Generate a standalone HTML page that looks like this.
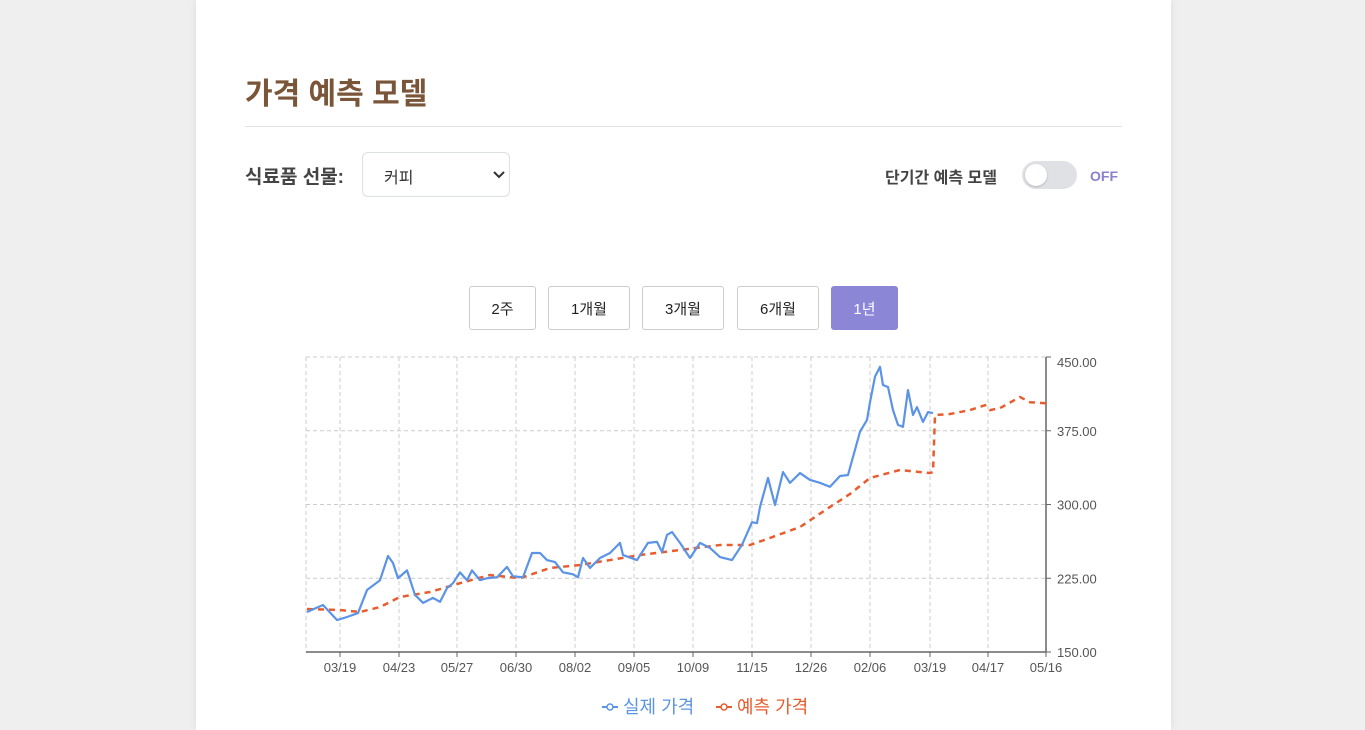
<!DOCTYPE html>
<html><head><meta charset="utf-8">
<style>
body{margin:0;width:1365px;height:730px;background:#efefef;overflow:hidden;font-family:"Liberation Sans","Noto Sans CJK KR",sans-serif;}
.card{position:absolute;left:196px;top:0;width:975px;height:730px;background:#fff;box-shadow:0 0 8px rgba(0,0,0,0.08);}
.abs{position:absolute;}
.btn{position:absolute;top:286px;height:44px;border:1px solid #ccc;border-radius:3px;background:#fff;font-size:15px;color:#222;display:flex;align-items:center;justify-content:center;box-sizing:border-box;}
</style></head><body>
<div class="card"></div>
<div class="abs" style="left:245px;top:69px;font-size:30px;font-weight:bold;color:#7a5538;">가격 예측 모델</div>
<div class="abs" style="left:245px;top:126px;width:877px;height:1px;background:#e2e2e2;"></div>
<div class="abs" style="left:245px;top:162px;font-size:19px;font-weight:bold;color:#444;">식료품 선물:</div>
<div class="abs" style="left:362px;top:152px;width:146px;height:43px;border:1.5px solid #dcdfe3;border-radius:6px;font-size:16px;color:#333;">
 <span style="position:absolute;left:21px;top:11px;">커피</span>
 <svg style="position:absolute;left:130px;top:17px" width="12" height="10"><path d="M1 2 L6 7 L11 2" stroke="#333" stroke-width="2" fill="none"/></svg>
</div>
<div class="abs" style="left:885px;top:164px;font-size:16px;font-weight:bold;color:#444;">단기간 예측 모델</div>
<div class="abs" style="left:1022px;top:161px;width:55px;height:28px;border-radius:14px;background:#dfe1e5;">
 <div style="position:absolute;left:3px;top:3px;width:22px;height:22px;border-radius:11px;background:#fff;box-shadow:0 1px 2px rgba(0,0,0,.2)"></div>
</div>
<div class="abs" style="left:1090px;top:168px;font-size:14px;font-weight:bold;color:#8b80d0;">OFF</div>
<div class="btn" style="left:469px;width:67px;">2주</div>
<div class="btn" style="left:548px;width:82px;">1개월</div>
<div class="btn" style="left:642px;width:82px;">3개월</div>
<div class="btn" style="left:737px;width:82px;">6개월</div>
<div class="btn" style="left:831px;width:67px;background:#8b86d6;border-color:#8b86d6;color:#fff;">1년</div>
<svg id="chart" class="abs" style="left:0;top:0" width="1365" height="730"></svg>
<script>
const tickIdx=[17,46.5,75.5,105,134.5,164,193.5,223,252.5,282,312,341,370];
const tickLabels=["03/19","04/23","05/27","06/30","08/02","09/05","10/09","11/15","12/26","02/06","03/19","04/17","05/16"];
const yTicks=[150,225,300,375,450];
const actualX=[0.5,8.5,15.5,20.5,26,30.5,37,41,43.5,46,50.5,54.5,58.5,63.5,67,70.5,73.5,77,80.5,83,87,90.5,95.5,100.5,103.5,108.5,113,117,120.5,124.5,128.5,133.5,136,138.5,142,147,152,157,158.5,165.5,171,175.5,178,180.5,183,187,192,197,202,207,213,218,223,225.5,227,231,234.5,238.5,242,247,252,257,262,267,271,274,277,280.5,282,284.5,287,288.5,291,293.5,296,298.5,301,303.5,305.5,308.5,311,313.5];
const actualY=[190.7,197.8,182.5,185.6,189.6,213,223,247.6,240.5,225,233,208,200,205,201,215,220,231,223,233,223,225,226,236.5,227,226,250.7,250.7,243.5,241.5,231,229,226,245.6,235.5,245.6,250.7,261,248.6,243.5,261,262,251.7,269,272,261,245.6,261,255.8,246.6,243.5,259,282,281,297.5,327,299.5,333,322,332,325,322,318,329,330,352,374,386,404,430,440,421.5,419.5,396,381,379,416.4,391,399,384,394,393];
const predX=[0.5,17,27,37,47,62,77,92,107,122,137,152,167,187,207,222,232,247,262,272,282,297,312,313.5,314.5,322,332,339.5,342,347,357,362,370];
const predY=[193.7,192.7,190.7,195.7,206,211,220,228.3,225,235.4,238.5,243.5,248.6,253.7,258.8,258.8,266,277.1,297.5,310.7,327,335.1,332,333,391,392,396,401,396,398,409.3,404,403];
const X0=306,X1=1046,Y0=652,Y1=357;
const xs=i=>X0+(i/370)*(X1-X0);
const ys=v=>Y0-(v-150)/300*(Y0-Y1);
const svg=document.getElementById('chart');
const NS='http://www.w3.org/2000/svg';
function mk(t,a){const e=document.createElementNS(NS,t);for(const k in a)e.setAttribute(k,a[k]);svg.appendChild(e);return e;}
let e;
yTicks.forEach(v=>{
 e=mk('line',{x1:X0,x2:X1,y1:ys(v),y2:ys(v),stroke:'#ccc','stroke-dasharray':'4,3'});
 
 
 e=mk('line',{x1:X1,x2:X1+5,y1:ys(v),y2:ys(v),stroke:'#666'});
 
 
 e=mk('text',{x:X1+11,y:ys(v)+(v===450?10:5),'font-size':13,fill:'#555','font-family':'Liberation Sans, sans-serif'});
 e.textContent=v.toFixed(2);
 
 
});
e=mk('line',{x1:X0,x2:X0,y1:Y1,y2:Y0,stroke:'#ccc','stroke-dasharray':'4,3'});


tickIdx.forEach((t,i)=>{
 e=mk('line',{x1:xs(t),x2:xs(t),y1:Y1,y2:Y0,stroke:'#ccc','stroke-dasharray':'4,3'});
 
 
 e=mk('line',{x1:xs(t),x2:xs(t),y1:Y0,y2:Y0+5,stroke:'#666'});
 
 
 e=mk('text',{x:xs(t),y:Y0+20,'font-size':13,fill:'#555','text-anchor':'middle','font-family':'Liberation Sans, sans-serif'});
 e.textContent=tickLabels[i];
 
 
});
e=mk('line',{x1:X0,x2:X1,y1:Y0,y2:Y0,stroke:'#666','stroke-width':1.5});


e=mk('line',{x1:X1,x2:X1,y1:Y1,y2:Y0,stroke:'#666','stroke-width':1.5});


e=mk('polyline',{points:predX.map((x,i)=>xs(x)+','+ys(predY[i])).join(' '),fill:'none',stroke:'#e85c2e','stroke-width':2.5,'stroke-dasharray':'6,5'});


e=mk('polyline',{points:actualX.map((x,i)=>xs(x)+','+ys(actualY[i])).join(' '),fill:'none',stroke:'#5b93e6','stroke-width':2.2,'stroke-linejoin':'round'});


const lg=[[602,'#5b93e6','실제 가격'],[716,'#e85c2e','예측 가격']];
lg.forEach(l=>{
 e=mk('line',{x1:l[0],x2:l[0]+16,y1:707,y2:707,stroke:l[1],'stroke-width':2});
 
 
 e=mk('circle',{cx:l[0]+8,cy:707,r:3,fill:'#fff',stroke:l[1],'stroke-width':1.5});
 
 
 e=mk('text',{x:l[0]+21,y:713,'font-size':18,fill:l[1],'font-family':'Liberation Sans, Noto Sans CJK KR, sans-serif'});
 e.textContent=l[2];
 
 
});
</script>
</body></html>
